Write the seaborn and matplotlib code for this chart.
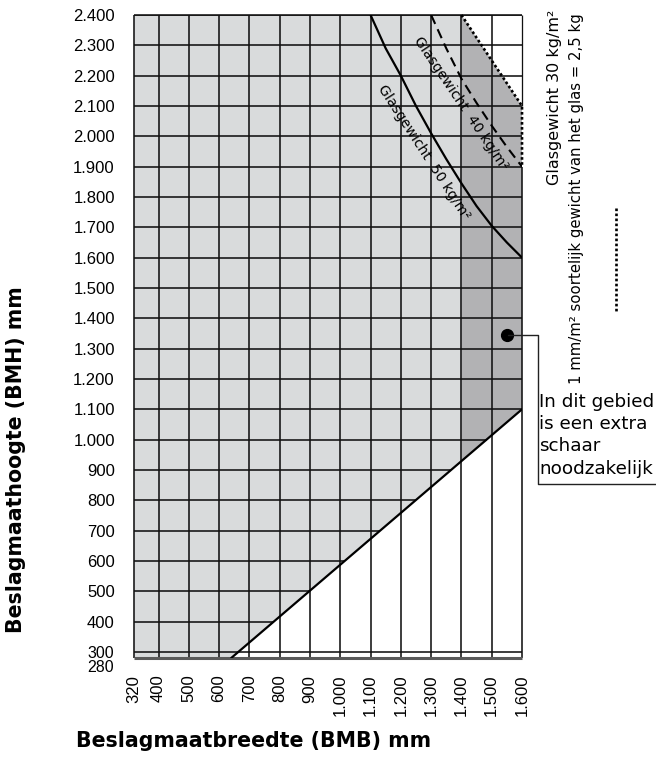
import numpy as np
import pandas as pd
import matplotlib
matplotlib.use("Agg")
import matplotlib.pyplot as plt
import matplotlib.transforms as mtransforms
import seaborn as sns
from matplotlib.lines import Line2D

# ---------------- data ----------------
x_ticks = [320, 400, 500, 600, 700, 800, 900, 1000, 1100, 1200, 1300, 1400, 1500, 1600]
y_ticks = [280, 300, 400, 500, 600, 700, 800, 900, 1000, 1100, 1200, 1300, 1400,
           1500, 1600, 1700, 1800, 1900, 2000, 2100, 2200, 2300, 2400]
x_tick_labels = ["320", "400", "500", "600", "700", "800", "900", "1.000", "1.100",
                 "1.200", "1.300", "1.400", "1.500", "1.600"]
y_tick_labels = ["280", "300", "400", "500", "600", "700", "800", "900", "1.000",
                 "1.100", "1.200", "1.300", "1.400", "1.500", "1.600", "1.700",
                 "1.800", "1.900", "2.000", "2.100", "2.200", "2.300", "2.400"]

# Glasgewicht 50 kg/m2 (solid)
w50 = [1100, 1150, 1200, 1250, 1300, 1350, 1400, 1450, 1500, 1550, 1600]
h50 = [2400, 2290, 2200, 2100, 2010, 1925, 1845, 1770, 1705, 1650, 1600]
# Glasgewicht 40 kg/m2 (dashed)
w40 = [1300, 1350, 1400, 1450, 1500, 1550, 1600]
h40 = [2400, 2290, 2190, 2110, 2035, 1965, 1900]
# Glasgewicht 30 kg/m2 (dotted)
w30 = [1400, 1600, 1600]
h30 = [2400, 2100, 1900]
# minimum line (lower limit)
min_w = [640, 1600]
min_h = [280, 1100]
# extra scissor region starts at this width
scissor_w = 1400
# callout point
callout_w, callout_h = 1550, 1345

LIGHT = "#d9dbdc"
DARK = "#b2b2b4"

# ---------------- figure ----------------
sns.set_theme(style="white")
plt.rcParams["font.family"] = ["DejaVu Sans"]
plt.rcParams["text.color"] = "black"
plt.rcParams["axes.labelcolor"] = "black"

W, H = 656, 763
fig = plt.figure(figsize=(W / 100, H / 100), dpi=100)
ax = fig.add_axes([134.3 / W, (H - 658) / H, (522 - 134.3) / W, (658 - 15) / H])
ax.set_xlim(x_ticks[0], x_ticks[-1])
ax.set_ylim(y_ticks[0], y_ticks[-1])
for s in ax.spines.values():
    s.set_visible(False)

xmin, xmax = x_ticks[0], x_ticks[-1]
ymin, ymax = y_ticks[0], y_ticks[-1]
diag_at_scissor = float(np.interp(scissor_w, min_w, min_h))

# light grey region
ax.fill([xmin, min_w[0], scissor_w, scissor_w, xmin],
        [ymin, min_h[0], diag_at_scissor, ymax, ymax],
        color=LIGHT, lw=0, zorder=0)
# dark grey region
ax.fill([scissor_w, min_w[-1], w30[1], w30[0]],
        [diag_at_scissor, min_h[-1], h30[1], h30[0]],
        color=DARK, lw=0, zorder=0)

GRID_LW = 1.15
GRID_C = "#111111"
# horizontal grid lines
for y in y_ticks[1:]:
    if y == 300 or y >= min_h[-1]:
        xe = xmax
    else:
        xe = float(np.interp(y, min_h, min_w))
    ax.hlines(y, xmin, xe, color=GRID_C, lw=GRID_LW, zorder=1)
# vertical grid lines
for x in x_ticks[:-1]:
    ax.vlines(x, ymin, ymax, color=GRID_C, lw=GRID_LW, zorder=1, clip_on=False)
ax.vlines(xmax, ymin, h30[-1], color=GRID_C, lw=GRID_LW, zorder=1, clip_on=False)
ax.vlines(xmax, h30[1], ymax, color=GRID_C, lw=GRID_LW * 0.8, zorder=1, clip_on=False)
ax.hlines(ymax, xmin, xmax, color=GRID_C, lw=GRID_LW, zorder=1, clip_on=False)
ax.hlines(ymin, xmin, xmax, color="#5a5a5a", lw=2.2, zorder=2, clip_on=False)

# curves
sns.lineplot(x=min_w, y=min_h, ax=ax, color="black", linewidth=1.6,
             sort=False, estimator=None, zorder=3)
sns.lineplot(x=w50, y=h50, ax=ax, color="black", linewidth=1.6,
             sort=False, estimator=None, zorder=3)
sns.lineplot(x=w40, y=h40, ax=ax, color="black", linewidth=1.5,
             linestyle=(0, (4.7, 2.8)), sort=False, estimator=None, zorder=3)
sns.lineplot(x=w30, y=h30, ax=ax, color="black", linewidth=1.9,
             linestyle=(0, (1, 0.9)), sort=False, estimator=None, zorder=3,
             clip_on=False)

# curve labels
ax.text(1277, 1948, "Glasgewicht  50 kg/m²", rotation=-57, rotation_mode="anchor",
        ha="center", va="center", fontsize=10.1, zorder=4, color="black")
ax.text(1398, 2108, "Glasgewicht  40 kg/m²", rotation=-56, rotation_mode="anchor",
        ha="center", va="center", fontsize=10.1, zorder=4, color="black")

# callout dot
ax.plot([callout_w], [callout_h], marker="o", markersize=8.5, color="black",
        zorder=5, clip_on=False)

# ticks
ax.set_xticks(x_ticks)
ax.set_xticklabels(x_tick_labels, rotation=90, family="Liberation Sans", fontsize=12)
ax.set_yticks(y_ticks)
# the two lowest labels sit very close together; draw them separately
main_y_labels = [("" if v in (280, 300) else t) for v, t in zip(y_ticks, y_tick_labels)]
ax.set_yticklabels(main_y_labels, family="Liberation Sans", fontsize=12)
ax.tick_params(axis="x", length=0, pad=12, colors="black")
ax.tick_params(axis="y", length=0, pad=14, colors="black")
for lab in ax.get_xticklabels():
    lab.set_va("top")
blend = mtransforms.blended_transform_factory(ax.transAxes, ax.transData)
for v, t in zip(y_ticks, y_tick_labels):
    if v in (280, 300):
        dy = -0.14 if v == 280 else -0.06
        tr = blend + mtransforms.ScaledTranslation(-0.20, dy, fig.dpi_scale_trans)
        ax.text(0, v, t, transform=tr, ha="right", va="baseline", color="black",
                family="Liberation Sans", fontsize=11.5, clip_on=False)
ax.grid(False)

# axis titles
fig.text(254 / W, 1 - 747 / H, "Beslagmaatbreedte (BMB) mm", fontsize=14.8,
         fontweight="bold", ha="center", va="baseline", color="black")
fig.text(16 / W, 1 - 460 / H, "Beslagmaathoogte (BMH) mm", fontsize=14.8,
         fontweight="bold", ha="center", va="center", rotation=90, color="black")

# right side legend texts
fig.text(555 / W, 1 - 10 / H, "Glasgewicht 30 kg/m²", rotation=90,
         ha="center", va="top", fontsize=11.5, color="black")
fig.text(576 / W, 1 - 13 / H, "1 mm/m² soortelijk gewicht van het glas = 2,5 kg",
         rotation=90, ha="center", va="top", fontsize=10.7, color="black")
fig.add_artist(Line2D([615.5 / W, 615.5 / W], [1 - 208 / H, 1 - 311 / H],
                      color="black", lw=1.9, linestyle=(0, (1, 0.9)),
                      transform=fig.transFigure))

# callout text and connector
fig.text(539 / W, 1 - 393 / H, "In dit gebied\nis een extra\nschaar\nnoodzakelijk",
         ha="left", va="top", fontsize=13.2, linespacing=1.3, color="black")
fig.add_artist(Line2D([508 / W, 537.5 / W, 537.5 / W, 656 / W],
                      [1 - 334.5 / H, 1 - 334.5 / H, 1 - 483.5 / H, 1 - 483.5 / H],
                      color="#222222", lw=1.0, transform=fig.transFigure, zorder=4))

fig.savefig("out.png", dpi=100)
